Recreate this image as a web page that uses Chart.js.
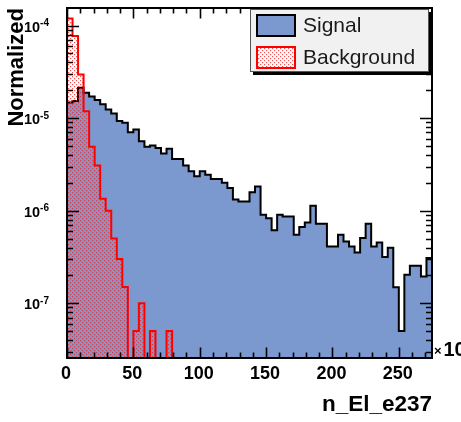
<!DOCTYPE html>
<html>
<head>
<meta charset="utf-8">
<script src="https://cdn.jsdelivr.net/npm/chart.js@4"></script>
<style>
  html, body { margin: 0; padding: 0; background: #fff; }
  #wrap { width: 461px; height: 422px; }
</style>
</head>
<body>
<div id="wrap"><canvas id="histChart" width="461" height="422"></canvas></div>
<script>
// x range of the histogram (n_El_e237, in units of 10^3)
const xMin = 0;
const xMax = 275;

// normalized bin contents, 66 equal bins over [xMin, xMax]
const signalValues = [
    1.48e-5, 1.53e-5, 2.13e-5, 1.88e-5, 1.71e-5, 1.57e-5, 1.41e-5, 1.24e-5, 1.12e-5, 9.29e-6,
    8.91e-6, 7.05e-6, 7.55e-6, 5.64e-6, 4.90e-6, 5.06e-6, 4.77e-6, 4.15e-6, 4.66e-6, 3.63e-6,
    3.63e-6, 3.08e-6, 2.67e-6, 2.36e-6, 2.67e-6, 2.45e-6, 2.20e-6, 2.20e-6, 2.00e-6, 1.76e-6,
    1.32e-6, 1.26e-6, 1.26e-6, 1.58e-6, 1.83e-6, 9.06e-7, 8.30e-7, 6.13e-7, 9.06e-7, 8.67e-7,
    8.67e-7, 5.50e-7, 6.65e-7, 7.46e-7, 1.13e-6, 7.22e-7, 7.22e-7, 4.10e-7, 4.10e-7, 5.50e-7,
    4.64e-7, 4.10e-7, 3.53e-7, 5.06e-7, 7.22e-7, 4.10e-7, 4.54e-7, 3.15e-7, 3.97e-7, 1.49e-7,
    5.0e-8, 2.03e-7, 2.54e-7, 2.54e-7, 1.94e-7, 3.08e-7
];
const backgroundValues = [
    1.19e-4, 7.73e-5, 2.97e-5, 1.19e-5, 4.90e-6, 3.08e-6, 1.35e-6, 1.0e-6, 5.0e-7, 3.0e-7,
    1.5e-7, 0, 5.0e-8, 1.0e-7, 0, 5.0e-8, 0, 0, 5.0e-8, 0,
    0, 0, 0, 0, 0, 0, 0, 0, 0, 0,
    0, 0, 0, 0, 0, 0, 0, 0, 0, 0,
    0, 0, 0, 0, 0, 0, 0, 0, 0, 0,
    0, 0, 0, 0, 0, 0, 0, 0, 0, 0,
    0, 0, 0, 0, 0, 0
];

const xTickValues = [0, 50, 100, 150, 200, 250];
const xTickLabels = ["0", "50", "100", "150", "200", "250"];
const yDecades = [-7, -6, -5, -4];
const yMin = 2.56e-8;
const yMax = 1.55e-4;

const xTitle = "n_El_e237";
const yTitle = "Normalized";
const seriesLabels = ["Signal", "Background"];

const signalBlue = "#7b98cf";

// step points at the bin edges; empty bins drop below the axis
function histPoints(values) {
    const w = (xMax - xMin) / values.length;
    const pts = values.map((v, i) => ({ x: xMin + i * w, y: v > 0 ? v : 1e-12 }));
    pts.push({ x: xMax, y: pts[pts.length - 1].y });
    return pts;
}

// small dotted fill for the background histogram
function dotPattern(bg) {
    const c = document.createElement("canvas");
    c.width = 4;
    c.height = 4;
    const p = c.getContext("2d");
    if (bg) {
        p.fillStyle = bg;
        p.fillRect(0, 0, 4, 4);
    }
    p.fillStyle = "rgba(240,40,40,0.8)";
    p.fillRect(0, 0, 1.2, 1.2);
    p.fillRect(2, 2, 1.2, 1.2);
    return p.createPattern(c, "repeat");
}

function font(weight, size) {
    return `${weight} ${size}px "Liberation Sans", Arial, sans-serif`;
}

// ROOT-like frame: inside ticks on all sides, axis labels, titles, legend
const rootFrame = {
    id: "rootFrame",
    afterDraw(chart) {
        const { ctx, chartArea: a, scales: { x, y } } = chart;
        ctx.save();

        // x ticks, every 10 with majors every 50
        ctx.strokeStyle = "#000";
        ctx.lineWidth = 1.6;
        ctx.beginPath();
        for (let v = xMin; v <= xMax; v += 10) {
            const px = Math.round(x.getPixelForValue(v)) + 0.5;
            const len = v % 50 === 0 ? 10.5 : 5.5;
            ctx.moveTo(px, a.bottom);
            ctx.lineTo(px, a.bottom - len);
            ctx.moveTo(px, a.top);
            ctx.lineTo(px, a.top + len);
        }
        // y ticks, log decades with 2..9 minors
        for (let d = -8; d <= -4; d++) {
            for (let m = 1; m <= 9; m++) {
                const v = m * Math.pow(10, d);
                if (v < yMin || v > yMax) continue;
                const py = Math.round(y.getPixelForValue(v)) + 0.5;
                const len = m === 1 ? 12 : 6;
                ctx.moveTo(a.left, py);
                ctx.lineTo(a.left + len, py);
                ctx.moveTo(a.right, py);
                ctx.lineTo(a.right - len, py);
            }
        }
        ctx.stroke();

        // frame
        ctx.lineWidth = 2;
        ctx.strokeRect(a.left, a.top, a.right - a.left, a.bottom - a.top);

        // x tick labels
        ctx.fillStyle = "#000";
        ctx.font = font("bold", 18);
        ctx.textAlign = "center";
        ctx.textBaseline = "alphabetic";
        xTickValues.forEach((v, i) => {
            ctx.fillText(xTickLabels[i], x.getPixelForValue(v) - 1, 379);
        });

        // y tick labels as 10 with a raised exponent
        yDecades.forEach(d => {
            const py = y.getPixelForValue(Math.pow(10, d));
            const exp = String(d);
            ctx.font = font("bold", 10);
            const ew = ctx.measureText(exp).width;
            ctx.font = font("bold", 14.5);
            const bw = ctx.measureText("10").width;
            const right = 49;
            ctx.textAlign = "left";
            ctx.fillText("10", right - ew - bw, py + 6);
            ctx.font = font("bold", 10);
            ctx.fillText(exp, right - ew, py + 0.5);
        });

        // exponent of the x axis, running off the right edge
        ctx.textAlign = "left";
        ctx.font = font("bold", 13);
        ctx.fillText("\u00d7", a.right + 2, 355);
        ctx.font = font("bold", 20);
        ctx.fillText("10", a.right + 11.5, 356);

        // axis titles
        ctx.font = font("bold", 22.5);
        ctx.textAlign = "right";
        ctx.fillText(xTitle, a.right, 411);
        ctx.save();
        ctx.translate(23, a.top);
        ctx.rotate(-Math.PI / 2);
        ctx.textAlign = "right";
        ctx.font = font("bold", 22);
        ctx.fillText(yTitle, 0, 0);
        ctx.restore();

        // legend box with drop shadow
        const lx = 250, ly = 9, lw = 179, lh = 63;
        ctx.fillStyle = "#000";
        ctx.fillRect(lx + 3, ly + 3, lw, lh);
        ctx.fillStyle = "#f1f1f1";
        ctx.fillRect(lx, ly, lw, lh);
        ctx.strokeStyle = "#555";
        ctx.lineWidth = 1;
        ctx.strokeRect(lx + 0.5, ly + 0.5, lw - 1, lh - 1);

        const ds = chart.data.datasets;
        const boxes = [
            { top: 15, fill: ds[0].backgroundColor, stroke: ds[0].borderColor },
            { top: 47, fill: dotPattern("#ffffff"), stroke: ds[1].borderColor }
        ];
        boxes.forEach((b, i) => {
            ctx.fillStyle = b.fill;
            ctx.fillRect(257, b.top, 38, 21);
            ctx.strokeStyle = b.stroke;
            ctx.lineWidth = 2;
            ctx.strokeRect(257, b.top, 38, 21);
            ctx.fillStyle = "#1a1a1a";
            ctx.font = font("normal", 21);
            ctx.textAlign = "left";
            ctx.fillText(ds[i].label, 303, b.top + 17);
        });

        ctx.restore();
    }
};

const ctx = document.getElementById("histChart").getContext("2d");

new Chart(ctx, {
    type: "line",
    data: {
        datasets: [
            {
                label: seriesLabels[0],
                data: histPoints(signalValues),
                stepped: "before",
                borderColor: "#000000",
                borderWidth: 2,
                borderJoinStyle: "miter",
                backgroundColor: signalBlue,
                fill: "start",
                pointRadius: 0,
                order: 1
            },
            {
                label: seriesLabels[1],
                data: histPoints(backgroundValues),
                stepped: "before",
                borderColor: "#ff0000",
                borderWidth: 2,
                borderJoinStyle: "miter",
                backgroundColor: dotPattern(null),
                fill: "start",
                pointRadius: 0,
                order: 0
            }
        ]
    },
    options: {
        responsive: false,
        animation: false,
        devicePixelRatio: 1,
        layout: { padding: { left: 67, right: 29, top: 8, bottom: 64 } },
        scales: {
            x: { type: "linear", min: xMin, max: xMax, display: false },
            y: { type: "logarithmic", min: yMin, max: yMax, display: false }
        },
        plugins: {
            legend: { display: false },
            tooltip: { enabled: false }
        }
    },
    plugins: [rootFrame]
});
</script>
</body>
</html>
